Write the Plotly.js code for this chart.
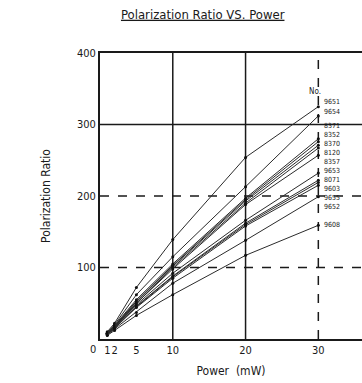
<!DOCTYPE html>
<html>
<head>
<meta charset="utf-8">
<script src="https://cdn.plot.ly/plotly-3.0.1.min.js"></script>
<style>html,body{margin:0;padding:0;background:#fff;}#chart{width:362px;height:383px;}</style>
</head>
<body>
<div id="chart"></div>
<script>
// ---- data ----
var power = [1, 2, 5, 10, 20, 30];
var sampleNames = ["9651", "9654", "8371", "8352", "8370", "8120", "8357",
                   "9653", "8071", "9603", "9655", "9652", "9608"];
var s9651 = [10, 22, 72, 139, 254, 325];
var s9654 = [9, 20, 62, 115, 213, 312];
var s8371 = [8, 19, 55, 105, 197, 280];
var s8352 = [8, 18, 53, 103, 195, 276];
var s8370 = [8, 18, 52, 102, 193, 271];
var s8120 = [7, 17, 50, 100, 190, 267];
var s8357 = [7, 17, 50, 98, 188, 257];
var s9653 = [7, 17, 48, 92, 166, 232];
var s8071 = [7, 16, 46, 88, 162, 222];
var s9603 = [6, 16, 45, 87, 160, 219];
var s9655 = [6, 15, 44, 85, 158, 215];
var s9652 = [6, 14, 37, 78, 138, 199];
var s9608 = [5, 12, 33, 62, 117, 159];
var seriesValues = [s9651, s9654, s8371, s8352, s8370, s8120, s8357,
                    s9653, s8071, s9603, s9655, s9652, s9608];
var xTickVals = [1, 2, 5, 10, 20, 30];
var xTickText = ["1", "2", "5", "10", "20", "30"];
var yTickVals = [100, 200, 300, 400];
var gridX = [10, 20, 30];
var gridY = [100, 200, 300];

// ---- style ----
var FONT = "'Liberation Sans Narrow', 'DejaVu Sans Condensed', 'Arial Narrow', sans-serif";
var INK = "#1a1a1a";
// vertical pixel offsets of the end labels (positive = up)
var labelShift = [5, 4, 13, 7, 1, -5, -7, 2, 0, -7, -13, -10, 0];
var gridXDash = ["solid", "solid", "dash"];
var gridYDash = ["dash", "dash", "solid"];

var traces = seriesValues.map(function (vals, i) {
  return {
    x: power, y: vals, name: sampleNames[i], type: "scatter", mode: "lines+markers",
    line: {color: "#2b2b2b", width: 1},
    marker: {color: "#111", size: 3},
    hoverinfo: "skip", cliponaxis: false
  };
});

var shapes = [];
gridX.forEach(function (gx, i) {
  shapes.push({type: "line", xref: "x", yref: "paper", x0: gx, x1: gx, y0: 0, y1: 1,
    layer: "below", line: {color: INK, width: 1.5, dash: gridXDash[i]}});
});
gridY.forEach(function (gy, i) {
  shapes.push({type: "line", xref: "paper", yref: "y", x0: 0, x1: 1, y0: gy, y1: gy,
    layer: "below", line: {color: INK, width: 1.5, dash: gridYDash[i]}});
});

var annotations = sampleNames.map(function (nm, i) {
  var v = seriesValues[i][seriesValues[i].length - 1];
  return {x: power[power.length - 1], y: v, xref: "x", yref: "y", text: nm,
    showarrow: false, xanchor: "left", yanchor: "middle",
    xshift: 4, yshift: labelShift[i],
    font: {family: FONT, size: 7, color: INK}};
});
annotations.push({x: power[power.length - 1], y: seriesValues[0][5], xref: "x", yref: "y",
  text: "No.", showarrow: false, xanchor: "center", yanchor: "bottom", xshift: -3, yshift: 9,
  font: {family: FONT, size: 8, color: INK}});
annotations.push({x: 0, y: 0, xref: "x", yref: "y", text: "0", showarrow: false,
  xanchor: "right", yanchor: "top", xshift: -2, yshift: -2,
  font: {family: FONT, size: 11, color: INK}});

var layout = {
  width: 362, height: 383,
  margin: {l: 100, r: 0, t: 53, b: 44},
  paper_bgcolor: "#fff", plot_bgcolor: "#fff",
  showlegend: false,
  font: {family: FONT, color: INK},
  title: {text: "<u>Polarization Ratio VS. Power</u>", x: 0.56, xanchor: "center",
    xref: "container", y: 0.963, yanchor: "middle", yref: "container",
    font: {family: FONT, size: 13, color: INK}},
  xaxis: {range: [0, 36], tickmode: "array", tickvals: xTickVals, ticktext: xTickText,
    tickangle: 0,
    showgrid: false, zeroline: false, showline: true, mirror: true,
    linecolor: INK, linewidth: 2, ticks: "", automargin: false,
    tickfont: {family: FONT, size: 11, color: INK},
    title: {text: "Power  (mW)", standoff: 10, font: {family: FONT, size: 12, color: INK}}},
  yaxis: {range: [0, 400], tickmode: "array", tickvals: yTickVals,
    showgrid: false, zeroline: false, showline: true,
    linecolor: INK, linewidth: 2, ticks: "", automargin: false,
    tickfont: {family: FONT, size: 11, color: INK},
    title: {text: "Polarization Ratio", standoff: 24, font: {family: FONT, size: 12, color: INK}}},
  shapes: shapes,
  annotations: annotations
};

Plotly.newPlot("chart", traces, layout, {staticPlot: true, displayModeBar: false});
</script>
</body>
</html>
